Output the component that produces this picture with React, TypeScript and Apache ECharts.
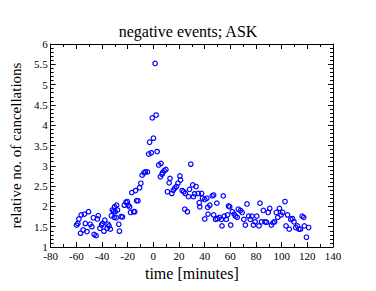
import React, { useEffect, useRef } from "react";
import * as echarts from "echarts";

const titleText = "negative events; ASK";
const xName = "time [minutes]";
const yName = "relative no. of cancellations";

const timeMinutes = [
  -59.8, -58.8, -58, -56.7, -56.2, -54.7, -53.7, -53, -51.7, -50.5, -49.2, -47.9, -46.7, -46.1, -44.6,
  -43.6, -42.9, -41.6, -40.3, -39.6, -38.5, -37.8, -36, -35.3, -34.5, -33.5, -32.7, -31.9, -31, -30.5,
  -30.2, -29.7, -28.9, -28.6, -27.9, -26.9, -26.4, -25.1, -24, -22.6, -21.3, -20.3, -19.5, -18.5, -17.8,
  -16.8, -15.3, -14.5, -13.8, -13, -12, -10.7, -9.7, -8.7, -7.2, -6.2, -4.6, -3.6, -2.9, -1.6,
  -0.8, 0.1, 1.4, 2.2, 3.0, 4.2, 5.5, 6.0, 6.8, 7.2, 8.5, 9.8, 11, 12.3, 13,
  14.4, 15.6, 16.7, 18.1, 19.2, 20.7, 21.2, 22.5, 23.7, 24.5, 24.9, 26.5, 27.4, 28.2, 29.2,
  30.7, 31.3, 32.1, 33.3, 35, 35.8, 36.2, 37.6, 38.3, 40.1, 40.1, 41.7, 42.6, 42.4, 44,
  45.9, 47, 47, 48.5, 49.5, 49.8, 51.5, 53, 53.5, 54.5, 55.3, 56.8, 57.8, 58.6, 59.5,
  60.3, 61.6, 63, 64.1, 65.4, 66.2, 67.9, 69.2, 70.5, 71.7, 73, 74.3, 75.5, 76.8, 78,
  79.3, 80.6, 82.3, 83.1, 84.3, 85.7, 87, 88.2, 89.5, 90.7, 92, 93.3, 94.5, 95.8, 97,
  98.3, 99.5, 100.8, 102.6, 103.4, 104.6, 105.9, 107.1, 108.4, 109.6, 110.9, 112.2, 113.4, 114.7, 116,
  117.2, 117.7, 119.3, 121,
];

const relCancellations = [
  1.54, 1.58, 1.69, 1.34, 1.79, 1.42, 1.81, 1.58, 1.38, 1.87, 1.56, 1.5, 1.72, 1.31, 1.28,
  1.69, 1.77, 1.46, 1.54, 1.58, 1.39, 1.66, 1.46, 1.56, 1.52, 1.44, 1.77, 1.91, 1.88, 1.73,
  1.99, 1.87, 1.72, 2.03, 1.91, 1.56, 1.39, 1.75, 1.74, 2.03, 2.1, 2.12, 2.03, 1.99, 1.85,
  2.34, 1.87, 1.87, 2.39, 2.14, 2.14, 2.46, 2.57, 2.77, 2.83, 2.85, 2.85, 3.29, 3.58, 3.32,
  4.18, 3.68, 5.52, 4.25, 3.35, 3.02, 2.73, 3.06, 2.79, 2.83, 2.88, 2.91, 2.36, 2.58, 2.69,
  2.32, 2.4, 2.45, 2.49, 2.57, 2.75, 2.65, 2.39, 2.36, 1.93, 2.32, 1.87, 2.24, 2.42, 3.04,
  2.53, 2.24, 2.31, 2.49, 2.32, 2.09, 1.99, 2.32, 2.2, 2.17, 1.69, 2.2, 1.81, 1.98, 2.03,
  2.26, 2.28, 1.79, 1.68, 2.08, 1.7, 1.73, 1.68, 1.52, 2.26, 1.76, 1.68, 1.79, 2.01, 1.99,
  1.54, 1.87, 1.81, 1.76, 1.73, 1.93, 1.9, 1.85, 1.68, 1.54, 2.06, 1.76, 1.68, 1.76, 1.54,
  1.62, 1.76, 1.52, 2.08, 1.62, 1.9, 1.62, 1.61, 1.85, 1.95, 1.54, 1.6, 1.62, 1.85, 1.73,
  1.95, 1.79, 1.85, 2.12, 1.52, 1.79, 1.44, 1.68, 1.7, 1.62, 1.48, 1.52, 1.44, 1.44, 1.76,
  1.73, 1.52, 1.24, 1.48,
];

const X_MIN = -80;
const X_MAX = 140;
const X_STEP = 20;
const Y_MIN = 1;
const Y_MAX = 6;
const Y_STEP = 0.5;

const FONT = "Liberation Serif";

export default function App() {
  const ref = useRef<HTMLDivElement>(null);

  useEffect(() => {
    if (!ref.current) return;
    const chart = echarts.init(ref.current, null, { renderer: "svg" });
    const points = timeMinutes.map((t, i) => [t, relCancellations[i]]);

    const axisLine = { show: true, onZero: false, lineStyle: { color: "#000", width: 1 } };
    const tick = { show: true, inside: true, length: 5, lineStyle: { color: "#000" } };
    const xMinor = { show: true, splitNumber: 2, length: 3, lineStyle: { color: "#000" } };
    const yMinor = { show: true, splitNumber: 5, length: 3, lineStyle: { color: "#000" } };

    chart.setOption({
      animation: false,
      backgroundColor: "#fff",
      textStyle: { fontFamily: FONT },
      title: {
        text: titleText,
        left: "center",
        top: 18,
        textStyle: { fontFamily: FONT, fontSize: 16, fontWeight: "normal", color: "#000" },
      },
      grid: { left: 43, right: 43, top: 44, bottom: 44, containLabel: false },
      xAxis: [
        {
          type: "value",
          min: X_MIN,
          max: X_MAX,
          interval: X_STEP,
          position: "bottom",
          name: xName,
          nameLocation: "middle",
          nameGap: 13,
          nameTextStyle: { fontFamily: FONT, fontSize: 16, color: "#000" },
          axisLine,
          axisTick: tick,
          minorTick: xMinor,
          axisLabel: { fontFamily: FONT, fontSize: 11, color: "#000", margin: 3 },
          splitLine: { show: false },
        },
        {
          type: "value",
          min: X_MIN,
          max: X_MAX,
          interval: X_STEP,
          position: "top",
          axisLine,
          axisTick: tick,
          minorTick: xMinor,
          axisLabel: { show: false },
          splitLine: { show: false },
        },
      ],
      yAxis: [
        {
          type: "value",
          min: Y_MIN,
          max: Y_MAX,
          interval: Y_STEP,
          position: "left",
          name: yName,
          nameLocation: "middle",
          nameGap: 16,
          nameTextStyle: { fontFamily: FONT, fontSize: 15, color: "#000" },
          axisLine,
          axisTick: tick,
          minorTick: yMinor,
          axisLabel: { fontFamily: FONT, fontSize: 11, color: "#000", margin: 3 },
          splitLine: { show: false },
        },
        {
          type: "value",
          min: Y_MIN,
          max: Y_MAX,
          interval: Y_STEP,
          position: "right",
          axisLine,
          axisTick: tick,
          minorTick: yMinor,
          axisLabel: { show: false },
          splitLine: { show: false },
        },
      ],
      series: [
        {
          type: "scatter",
          xAxisIndex: 0,
          yAxisIndex: 0,
          data: points,
          symbol: "circle",
          symbolSize: 4.5,
          itemStyle: { color: "rgba(255,255,255,0)", borderColor: "#0000ff", borderWidth: 1.2, opacity: 1 },
        },
      ],
    });
    return () => chart.dispose();
  }, []);

  return (
    <div
      ref={ref}
      style={{ position: "fixed", left: 0, top: 0, width: 376, height: 291, background: "#fff" }}
    />
  );
}
